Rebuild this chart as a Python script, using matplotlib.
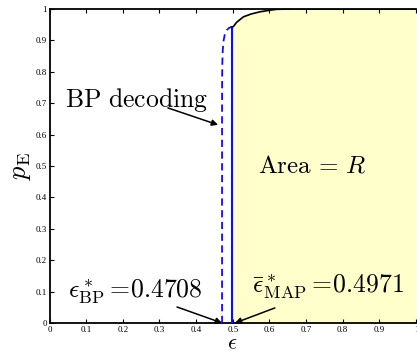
import matplotlib
matplotlib.use("Agg")
import matplotlib.pyplot as plt

plt.rcParams['mathtext.fontset'] = 'cm'

eps_bp = 0.4708
eps_map = 0.4971

# BP EXIT curve (dashed)
bp_eps = [0.4708, 0.4708, 0.4710, 0.4716, 0.4728, 0.4750, 0.4785, 0.4840, 0.4900, 0.4971]
bp_p = [0.0, 0.70, 0.78, 0.83, 0.87, 0.90, 0.92, 0.933, 0.940, 0.943]

# MAP curve upper part (black)
map_eps = [0.4971, 0.5015, 0.510, 0.529, 0.550, 0.574, 0.600, 0.620, 0.664, 0.75, 0.9, 1.0]
map_p = [0.943, 0.9436, 0.957, 0.975, 0.984, 0.991, 0.996, 0.999, 1.0, 1.0, 1.0, 1.0]

xticks = [0, 0.1, 0.2, 0.3, 0.4, 0.5, 0.6, 0.7, 0.8, 0.9, 1]
xticklabels = ['0', '0.1', '0.2', '0.3', '0.4', '0.5', '0.6', '0.7', '0.8', '0.9', '1']
yticks = [0, 0.1, 0.2, 0.3, 0.4, 0.5, 0.6, 0.7, 0.8, 0.9, 1]
yticklabels = ['0', '0.1', '0.2', '0.3', '0.4', '0.5', '0.6', '0.7', '0.8', '0.9', '1']

W, H = 417, 353
fig = plt.figure(figsize=(W / 100, H / 100), dpi=100)
ax = fig.add_axes([49.5 / W, (H - 323) / H, 366.5 / W, 314 / H])

ax.fill_between(map_eps, 0, map_p, color='#FFFFCC', zorder=1, lw=0)

ax.plot(bp_eps, bp_p, color='#1010EE', lw=1.3, ls=(0, (4, 2.5)), zorder=3)
ax.plot([eps_map, eps_map], [0, map_p[0]], color='#1010EE', lw=1.5, zorder=3)
ax.plot(map_eps, map_p, color='black', lw=1.2, zorder=4)

ax.set_xlim(0, 1)
ax.set_ylim(0, 1)
ax.set_xticks(xticks)
ax.set_xticklabels(xticklabels)
ax.set_yticks(yticks)
ax.set_yticklabels(yticklabels)
ax.tick_params(direction='in', length=3, width=0.8, labelsize=6.5, pad=2,
               top=True, right=False)
for lab in ax.get_xticklabels() + ax.get_yticklabels():
    lab.set_fontfamily('Liberation Serif')
for s in ['left', 'bottom', 'top']:
    ax.spines[s].set_linewidth(1.3)
ax.spines['right'].set_visible(False)

fig.text(232 / W, 1 - 343.5 / H, r'$\epsilon$', fontsize=16, ha='center', va='center')
ax.set_ylabel(r'$p_{\mathrm{E}}$', fontsize=19, labelpad=2)

arrow = dict(arrowstyle='-|>', color='black', lw=1.1, mutation_scale=9,
             shrinkA=0, shrinkB=0)

ax.text(0.042, 0.688, r'$\mathrm{BP\ decoding}$', fontsize=18.5, va='baseline', ha='left')
ax.annotate('', xy=(0.460, 0.631), xytext=(0.323, 0.685), arrowprops=arrow)

ax.text(0.569, 0.478, r'$\mathrm{Area}\,=\,R$', fontsize=18, va='baseline', ha='left')

ax.text(0.050, 0.080, r'$\epsilon^*_{\mathrm{BP}}=\!0.4708$', fontsize=18.5,
        va='baseline', ha='left')
ax.annotate('', xy=(eps_bp, 0.0), xytext=(0.348, 0.051), arrowprops=arrow)

ax.text(0.553, 0.096, r'$\bar{\epsilon}^*_{\mathrm{MAP}}=\!0.4971$', fontsize=18.5,
        va='baseline', ha='left')
ax.annotate('', xy=(0.506, 0.0), xytext=(0.615, 0.048), arrowprops=arrow)

fig.savefig('out.png', dpi=100)
